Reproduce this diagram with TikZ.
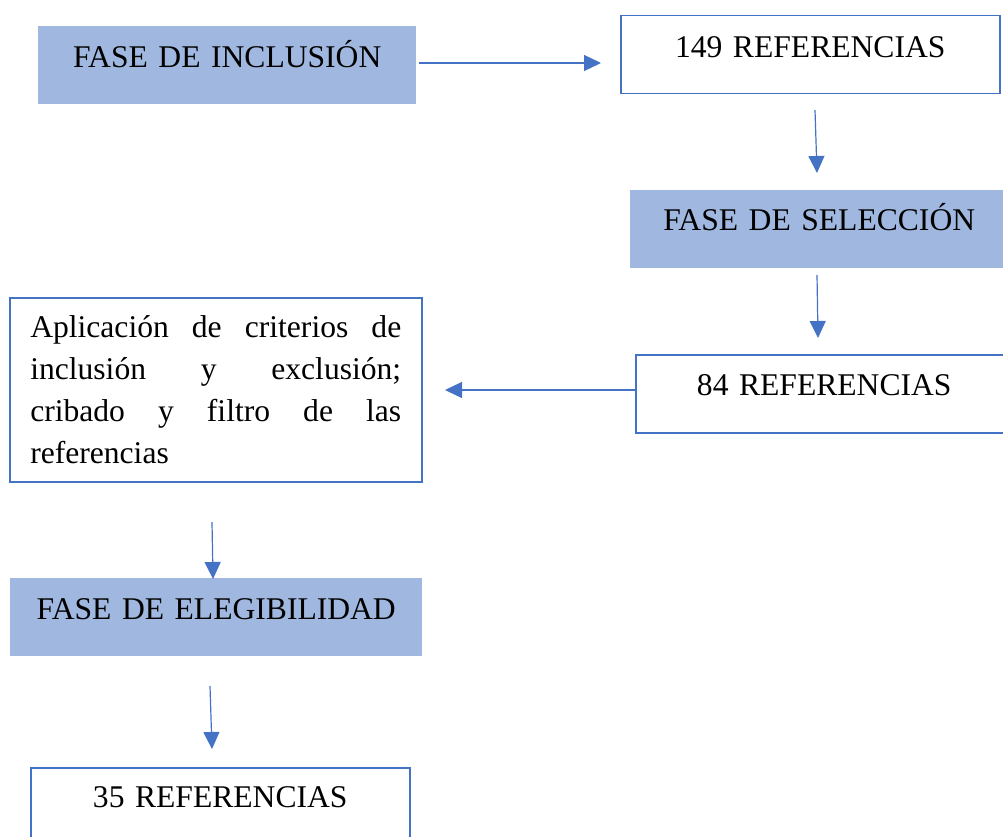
\documentclass[tikz,border=0pt]{standalone}
\usepackage{fontspec}
\setmainfont{Liberation Serif}
\usetikzlibrary{arrows.meta}
\definecolor{boxfill}{HTML}{A0B8E0}
\definecolor{accent}{HTML}{4472C4}
\newcommand{\jline}[1]{\leavevmode\hbox to 371pt{#1}}
\begin{document}
\begin{tikzpicture}[x=1pt,y=-1pt,
  base/.style={anchor=north west, inner sep=0pt, align=center, font=\fontsize{31.6}{38}\selectfont},
  phase/.style={base, fill=boxfill},
  refbox/.style={base, draw=accent, line width=1.5pt, fill=white},
  conn/.style={draw=accent, line width=1.2pt, -{Triangle[length=17pt,width=16pt]}}]
\clip (0,0) rectangle (1003,837);
\fill[white] (0,0) rectangle (1003,837);
\node[phase, text width=378pt, text height=41pt, text depth=37pt] (inc) at (38,26) {FASE DE INCLUSIÓN};
\node[refbox, text width=379pt, text height=42pt, text depth=36pt] (r149) at (620,15) {149 REFERENCIAS};
\node[phase, text width=378pt, text height=40pt, text depth=38pt] (sel) at (630,190) {FASE DE SELECCIÓN};
\node[refbox, text width=377pt, text height=41pt, text depth=37pt] (r84) at (635,354) {84 REFERENCIAS};
\node[refbox, align=left, text width=371pt, inner xsep=20.5pt, minimum width=412pt, minimum height=184pt, font=\fontsize{31.6}{42}\selectfont] (app) at (9,297)
  {\rule{0pt}{40pt}\jline{Aplicación\hfill de\hfill criterios\hfill de}\\
   \jline{inclusión\hfill y\hfill exclusión;}\\
   \jline{cribado\hfill y\hfill filtro\hfill de\hfill las}\\
   referencias\rule[-18pt]{0pt}{18pt}};
\node[phase, text width=412pt, text height=41pt, text depth=37pt] (eleg) at (10,578) {FASE DE ELEGIBILIDAD};
\node[refbox, text width=379pt, text height=40pt, text depth=40pt] (r35) at (30,767) {35 REFERENCIAS};
\coordinate (c1a) at (419,63);  \coordinate (c1b) at (601,63);
\coordinate (c2a) at (815,110); \coordinate (c2b) at (817,173);
\coordinate (c3a) at (817,275); \coordinate (c3b) at (818,338);
\coordinate (c4a) at (635,390); \coordinate (c4b) at (445,390);
\coordinate (c5a) at (212,522); \coordinate (c5b) at (213,579);
\coordinate (c6a) at (210,686); \coordinate (c6b) at (212,749);
\draw[conn] (c1a) -- (c1b);
\draw[conn] (c2a) -- (c2b);
\draw[conn] (c3a) -- (c3b);
\draw[conn] (c4a) -- (c4b);
\draw[conn] (c5a) -- (c5b);
\draw[conn] (c6a) -- (c6b);
\end{tikzpicture}
\end{document}
